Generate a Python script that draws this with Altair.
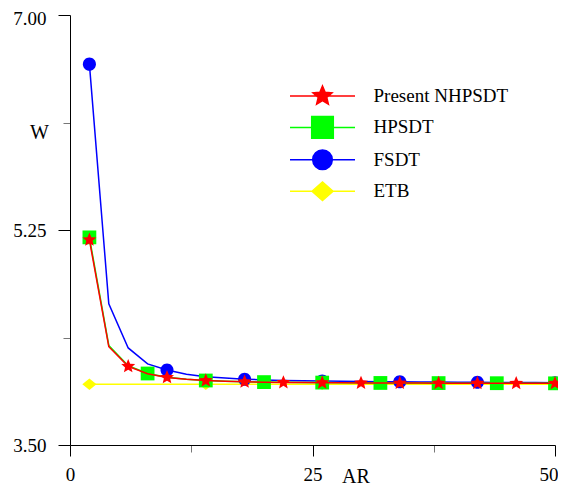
import altair as alt
import pandas as pd

# ---- data ----
ar = [2, 4, 6, 8, 10, 12, 14, 16, 18, 20, 22, 24, 26, 28, 30, 32, 34, 36, 38, 40, 42, 44, 46, 48, 50]
present = [5.17, 4.30, 4.14, 4.08, 4.05, 4.035, 4.024, 4.018, 4.014, 4.011, 4.009, 4.008, 4.007,
           4.006, 4.005, 4.005, 4.004, 4.004, 4.003, 4.003, 4.003, 4.002, 4.002, 4.002, 4.002]
hpsdt = [5.19, 4.31, 4.145, 4.082, 4.052, 4.036, 4.025, 4.019, 4.015, 4.012, 4.01, 4.009, 4.008,
         4.007, 4.006, 4.005, 4.005, 4.004, 4.004, 4.003, 4.003, 4.003, 4.003, 4.002, 4.002]
fsdt = [6.60, 4.65, 4.29, 4.16, 4.11, 4.075, 4.056, 4.045, 4.036, 4.03, 4.026, 4.023, 4.02,
        4.018, 4.016, 4.015, 4.014, 4.013, 4.012, 4.011, 4.01, 4.009, 4.008, 4.008, 4.007]
etb = [3.995, 3.995, 3.995, 3.995, 3.995, 3.995, 3.995, 3.995, 3.995, 3.995, 3.995, 3.995, 3.995,
       3.995, 3.995, 3.995, 3.995, 3.995, 3.995, 3.995, 3.995, 3.995, 3.995, 3.995, 3.995]

series_names = ["Present NHPSDT", "HPSDT", "FSDT", "ETB"]
series_colors = ["#ff0000", "#00ff00", "#0000ff", "#ffff00"]

# x positions that carry a marker
star_marks = [2, 6, 10, 14, 18, 22, 26, 30, 34, 38, 42, 46, 50]
square_marks = [2, 8, 14, 20, 26, 32, 38, 44, 50]
circle_marks = [2, 10, 18, 26, 34, 42, 50]
diamond_marks = [2, 14, 26, 38, 50]

x_ticks = [0, 12.5, 25, 37.5, 50]
y_ticks = [3.5, 4.375, 5.25, 6.125, 7.0]

# ---- marker shapes (unit paths) ----
STAR = ("M0,-1L0.264,-0.364L0.951,-0.309L0.428,0.139L0.588,0.809L0,0.45"
        "L-0.588,0.809L-0.428,0.139L-0.951,-0.309L-0.264,-0.364Z")
SQUARE = "M-1,-1L1,-1L1,1L-1,1Z"
CIRCLE = "M1,0A1,1 0 1,1 -1,0A1,1 0 1,1 1,0Z"
DIAMOND = "M-1,0L0,-0.82L1,0L0,0.82Z"

LINE = "M-3.25,0L3.25,0"
LEG_STAR = LINE + STAR
LEG_SQUARE = LINE + "M-1.08,-1.08L1.08,-1.08L1.08,1.08L-1.08,1.08Z"
LEG_CIRCLE = LINE + "M0.98,0A0.98,0.98 0 1,1 -0.98,0A0.98,0.98 0 1,1 0.98,0Z"
LEG_DIAMOND = LINE + "M-1.05,0L0,-0.93L1.05,0L0,0.93Z"

FONT = "Liberation Serif"

rows = []
for name, vals, marks in [("Present NHPSDT", present, star_marks),
                          ("HPSDT", hpsdt, square_marks),
                          ("FSDT", fsdt, circle_marks),
                          ("ETB", etb, diamond_marks)]:
    for a, v in zip(ar, vals):
        rows.append({"ar": a, "w": v, "series": name, "marker": a in marks})
df = pd.DataFrame(rows)
legend_df = pd.DataFrame({"series": series_names})

x_enc = alt.X(
    "ar:Q",
    scale=alt.Scale(domain=[0, 50], nice=False, zero=False),
    axis=alt.Axis(
        values=x_ticks, format="d",
        labelExpr="datum.value % 25 == 0 ? datum.label : ''",
        labelAlign={"condition": {"test": "datum.value == 50", "value": "right"}, "value": "center"},
        labelOffset={"condition": {"test": "datum.value == 50", "value": 3}, "value": 0},
        title="AR", titleX=285.5, titleY=31, titleAngle=0, titleAlign="center",
        titleBaseline="middle", titleFont=FONT, titleFontSize=20, titleFontWeight="normal",
        titleColor="black",
        tickSize={"condition": {"test": "datum.value % 25 == 0", "value": 11}, "value": 7},
        tickColor={"condition": {"test": "datum.value % 25 == 0", "value": "black"}, "value": "#777777"},
        tickWidth=1, domainColor="black", domainWidth=1, grid=False,
        labelFont=FONT, labelFontSize=19, labelColor="black", labelPadding=9.5,
        labelBaseline="top", labelFlush=False, labelOverlap=False,
    ),
)
y_enc = alt.Y(
    "w:Q",
    scale=alt.Scale(domain=[3.5, 7.0], nice=False, zero=False),
    axis=alt.Axis(
        values=y_ticks, format=".2f",
        labelExpr="datum.value % 1.75 == 0 ? datum.label : ''",
        labelOffset={"condition": {"test": "datum.value == 7", "value": 3}, "value": 0},
        title="W", titleX=-31, titleY=117, titleAngle=0, titleAlign="center",
        titleBaseline="middle", titleFont=FONT, titleFontSize=20, titleFontWeight="normal",
        titleColor="black",
        tickSize={"condition": {"test": "datum.value % 1.75 == 0", "value": 12}, "value": 7},
        tickColor={"condition": {"test": "datum.value % 1.75 == 0", "value": "black"}, "value": "#777777"},
        tickWidth=1, domainColor="black", domainWidth=1, grid=False,
        labelFont=FONT, labelFontSize=19, labelColor="black", labelPadding=12,
        labelBaseline="middle", labelFlush=False, labelOverlap=False,
    ),
)
color_scale = alt.Scale(domain=series_names, range=series_colors)
color_enc = alt.Color("series:N", scale=color_scale, legend=None)

# legend layer first so its (enabled) legend wins the merge
leg = alt.Legend(
    orient="none", legendX=241.5, legendY=70, title=None, padding=0,
    labelFont=FONT, labelFontSize=19, labelColor="black", labelOffset=40,
    symbolSize=400, symbolStrokeWidth=1.5, symbolOpacity=1, rowPadding=5.4,
    labelLimit=400,
)
legend_layer = alt.Chart(legend_df).mark_point(filled=True, opacity=0).encode(
    color=alt.Color("series:N", scale=color_scale, legend=leg),
    stroke=alt.Stroke("series:N", scale=alt.Scale(domain=series_names, range=series_colors), legend=leg),
    shape=alt.Shape("series:N",
                    scale=alt.Scale(domain=series_names,
                                    range=[LEG_STAR, LEG_SQUARE, LEG_CIRCLE, LEG_DIAMOND]),
                    legend=leg),
)

base = alt.Chart(df)
layers = [legend_layer]
for name, shape, size in [("ETB", DIAMOND, 200), ("FSDT", CIRCLE, 170),
                          ("HPSDT", SQUARE, 190), ("Present NHPSDT", STAR, 215)]:
    sub = base.transform_filter(alt.datum.series == name)
    layers.append(sub.mark_line(strokeWidth=1.5).encode(x=x_enc, y=y_enc, color=color_enc))
    layers.append(
        sub.transform_filter(alt.datum.marker == True)
        .mark_point(shape=shape, filled=True, size=size, opacity=1, strokeWidth=0)
        .encode(x=x_enc, y=y_enc, color=color_enc)
    )

chart = alt.layer(*layers).properties(
    width=485, height=430,
    autosize=alt.AutoSizeParams(type="none"),
    padding={"left": 62, "top": 7, "right": 3, "bottom": 40},
    background="white",
).configure_view(stroke=None)

chart.save("out.html", embed_options={"renderer": "svg", "actions": False})
